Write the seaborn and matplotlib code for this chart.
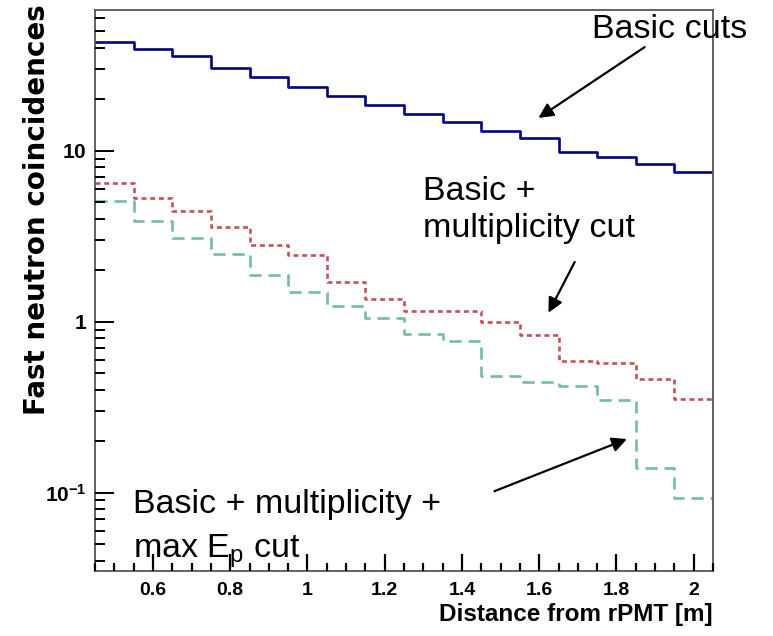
import numpy as np
import pandas as pd
import matplotlib
matplotlib.use("Agg")
import matplotlib.pyplot as plt
from matplotlib import font_manager
from matplotlib.ticker import FixedLocator, FixedFormatter, MultipleLocator, FuncFormatter
import seaborn as sns

# Histogram binning (distance from rPMT, metres)
bin_lo, bin_hi, bin_width = 0.45, 2.05, 0.1

# Fast neutron coincidences per bin
basic_cuts = [43.6, 39.4, 35.9, 30.5, 27.2, 23.7, 21.0, 18.6,
              16.5, 14.8, 13.0, 11.9, 9.87, 9.18, 8.40, 7.50]
basic_mult = [6.53, 5.31, 4.48, 3.58, 2.83, 2.47, 1.72, 1.36,
              1.16, 1.16, 1.00, 0.833, 0.59, 0.575, 0.462, 0.353]
basic_mult_ep = [5.12, 3.91, 3.08, 2.50, 1.87, 1.50, 1.24, 1.05,
                 0.844, 0.774, 0.481, 0.446, 0.421, 0.348, 0.139, 0.0927]

series_names = ["basic", "mult", "mult_ep"]
series_values = [basic_cuts, basic_mult, basic_mult_ep]
series_colors = {"basic": "#000080", "mult": "#c8505c", "mult_ep": "#74bd9e"}
series_dashes = {"basic": "", "mult": (1.9, 1.4), "mult_ep": (4.6, 2.6)}

x_ticks = [0.6, 0.8, 1.0, 1.2, 1.4, 1.6, 1.8, 2.0]
x_tick_labels = ["0.6", "0.8", "1", "1.2", "1.4", "1.6", "1.8", "2"]
y_ticks = [0.1, 1, 10]

sns.set_style("ticks")

installed = {f.name for f in font_manager.fontManager.ttflist}
narrow = "Liberation Sans Narrow" if "Liberation Sans Narrow" in installed else "Liberation Sans"

plt.rcParams["mathtext.fontset"] = "custom"
plt.rcParams["mathtext.rm"] = "Liberation Sans"
plt.rcParams["mathtext.it"] = "Liberation Sans:italic"
plt.rcParams["mathtext.bf"] = f"{narrow}:bold"
plt.rcParams["font.family"] = ["Liberation Sans", "DejaVu Sans"]
plt.rcParams["axes.axisbelow"] = False
for key in ["text.color", "axes.labelcolor", "xtick.color", "ytick.color",
            "xtick.labelcolor", "ytick.labelcolor"]:
    plt.rcParams[key] = "black"

# Long-form table: each series drawn as a step outline over the bin edges
edges = np.round(np.arange(bin_lo, bin_hi + bin_width / 2, bin_width), 2)
rows = []
for name, vals in zip(series_names, series_values):
    stepped = list(vals) + [vals[-1]]
    for e, v in zip(edges, stepped):
        rows.append({"edge": e, "count": v, "cut": name})
df = pd.DataFrame(rows)

fig = plt.figure(figsize=(7.73, 6.36), dpi=100)
ax = fig.add_axes([0.1229, 0.1022, 0.7995, 0.8821])

sns.lineplot(data=df, x="edge", y="count", hue="cut", style="cut",
             hue_order=series_names, style_order=series_names,
             palette=series_colors, dashes=series_dashes,
             drawstyle="steps-post", estimator=None, legend=False,
             linewidth=1.9, ax=ax)

ax.set_yscale("log")
ax.set_xlim(bin_lo, bin_hi)
ax.set_ylim(0.0348, 66.8)
ax.set_axisbelow(False)

# Axis frame
for side in ["left", "bottom", "right", "top"]:
    ax.spines[side].set_color("#555555")
    ax.spines[side].set_linewidth(1.3)
    ax.spines[side].set_visible(True)

ax.xaxis.set_major_locator(FixedLocator(x_ticks))
ax.xaxis.set_major_formatter(FixedFormatter(x_tick_labels))
ax.xaxis.set_minor_locator(MultipleLocator(0.05))

def ylab(v, pos):
    if v >= 1:
        return rf"$\mathbf{{{int(round(v))}}}$"
    return rf"$\mathbf{{10^{{{int(round(np.log10(v)))}}}}}$"

ax.yaxis.set_major_locator(FixedLocator(y_ticks))
ax.yaxis.set_major_formatter(FuncFormatter(ylab))
minor_y = [m * 10.0 ** d for d in (-2, -1, 0, 1) for m in range(2, 10)]
ax.yaxis.set_minor_locator(FixedLocator(minor_y))
ax.yaxis.set_minor_formatter(FuncFormatter(lambda v, p: ""))

# Inward ticks on the left and bottom axes only
ax.tick_params(axis="x", which="both", direction="in", color="black",
               labelcolor="black", top=False, bottom=True, width=1.6)
ax.tick_params(axis="y", which="both", direction="in", color="black",
               labelcolor="black", right=False, left=True, width=1.4)
ax.tick_params(axis="x", which="major", length=12.5, pad=8)
ax.tick_params(axis="x", which="minor", length=6)
ax.tick_params(axis="y", which="major", length=13.5, pad=6)
ax.tick_params(axis="y", which="minor", length=7.5)

for lab in ax.get_xticklabels():
    lab.set_fontfamily(narrow)
    lab.set_fontweight("bold")
    lab.set_fontsize(14)
for lab in ax.get_yticklabels():
    lab.set_fontsize(15)

ax.set_xlabel("Distance from rPMT [m]", fontsize=17.5, fontweight="bold",
              fontfamily=narrow, loc="right", labelpad=3)
ax.set_ylabel("Fast neutron coincidences", fontsize=20, fontweight="bold",
              fontfamily="DejaVu Sans", loc="top")
ax.yaxis.set_label_coords(-0.072, 1.01)

# Annotations
txt = dict(fontsize=24.5, color="black", va="baseline", ha="left",
           fontfamily="Liberation Sans", annotation_clip=False)
arrow = dict(arrowstyle="-|>", color="black", lw=1.6, mutation_scale=22,
             shrinkA=0, shrinkB=0)

ax.annotate("Basic cuts", xy=(1.736, 45.8), **txt)
ax.annotate("", xy=(1.598, 15.6), xytext=(1.873, 40.5), arrowprops=arrow)

ax.annotate("Basic +", xy=(1.299, 5.16), **txt)
ax.annotate("multiplicity cut", xy=(1.299, 3.14), **txt)
ax.annotate("", xy=(1.624, 1.13), xytext=(1.692, 2.24), arrowprops=arrow)

ax.annotate("Basic + multiplicity +", xy=(0.549, 0.0761), **txt)
ax.annotate(r"max E$_\mathrm{p}$ cut", xy=(0.549, 0.0415), **txt)
ax.annotate("", xy=(1.827, 0.206), xytext=(1.484, 0.102), arrowprops=arrow)

fig.savefig("out.png", dpi=100)
